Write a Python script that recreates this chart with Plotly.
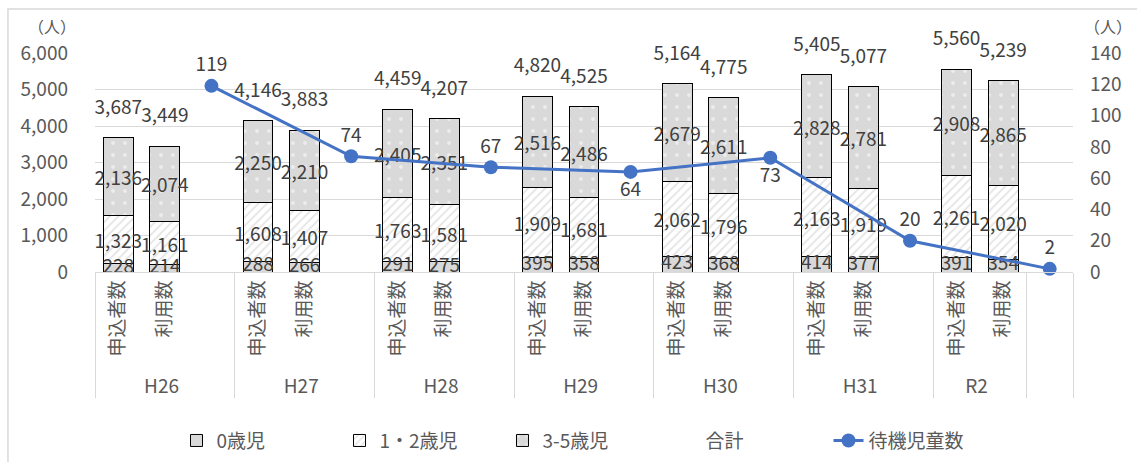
import plotly.graph_objects as go

# 年度と区分
years = ["H26", "H27", "H28", "H29", "H30", "H31", "R2"]
kinds = ["申込者数", "利用数"]

# 0歳児
age0_apply = [228, 288, 291, 395, 423, 414, 391]
age0_use = [214, 266, 275, 358, 368, 377, 354]
# 1・2歳児
age12_apply = [1323, 1608, 1763, 1909, 2062, 2163, 2261]
age12_use = [1161, 1407, 1581, 1681, 1796, 1919, 2020]
# 3-5歳児
age35_apply = [2136, 2250, 2405, 2516, 2679, 2828, 2908]
age35_use = [2074, 2210, 2351, 2486, 2611, 2781, 2865]
# 待機児童数
waiting = [119, 74, 67, 64, 73, 20, 2]
waiting_pos = ["top center", "top center", "top center", "bottom center",
               "bottom center", "top center", "top center"]

FONT = "Noto Sans CJK JP"
TICK_COLOR = "#595959"
LABEL_COLOR = "#404040"
GRID = "#d9d9d9"
BLANK = " "

# two-level category slots: each year has 申込者数, 利用数 and a spacer slot
outer, inner = [], []
for i, y in enumerate(years):
    outer += [y, y]
    inner += kinds
    if i < len(years) - 1:
        outer.append(y)
        inner.append(BLANK)
outer.append(BLANK)
inner.append(BLANK)
n_slots = len(outer)


def per_slot(apply_vals, use_vals):
    out = []
    for i in range(len(years)):
        out += [apply_vals[i], use_vals[i]]
        if i < len(years) - 1:
            out.append(None)
    out.append(None)
    return out


def per_bar(apply_vals, use_vals):
    out = []
    for a, u in zip(apply_vals, use_vals):
        out += [a, u]
    return out


bar_outer = [y for y in years for _ in kinds]
bar_inner = [k for _ in years for k in kinds]
age0_bars = per_bar(age0_apply, age0_use)
totals = [a + b + c for a, b, c in zip(age0_bars,
                                       per_bar(age12_apply, age12_use),
                                       per_bar(age35_apply, age35_use))]

wait_outer = years[:-1] + [BLANK]
wait_inner = [BLANK] * len(years)

label_font = dict(family=FONT, size=19, color=LABEL_COLOR)

fig = go.Figure()

bar_specs = [
    ("0歳児", per_slot(age0_apply, age0_use), False,
     dict(color="#d9d9d9", line=dict(color="black", width=1))),
    ("1・2歳児", per_slot(age12_apply, age12_use), True,
     dict(color="white", line=dict(color="black", width=1),
          pattern=dict(shape="/", fgcolor="#c8c8c8", bgcolor="white",
                       size=6, solidity=0.3))),
    ("3-5歳児", per_slot(age35_apply, age35_use), True,
     dict(color="#d9d9d9", line=dict(color="black", width=1),
          pattern=dict(shape=".", fgcolor="white", bgcolor="#d9d9d9",
                       size=12, solidity=0.08))),
]
for rank, (name, vals, inside_text, marker) in enumerate(bar_specs):
    fig.add_trace(go.Bar(
        x=[outer, inner], y=vals, name=name, marker=marker,
        texttemplate="%{y:,}" if inside_text else None,
        textposition="inside" if inside_text else "none", textangle=0,
        insidetextanchor="middle", constraintext="none",
        textfont=label_font,
        legendrank=rank + 1,
    ))

# 0歳児 labels sit at the middle of the thin bottom segment, drawn above the stack
fig.add_trace(go.Scatter(
    x=[bar_outer, bar_inner], y=[v / 2 for v in age0_bars],
    mode="text", text=[f"{v:,}" for v in age0_bars],
    textposition="middle center", textfont=label_font,
    showlegend=False, hoverinfo="skip", cliponaxis=False,
))

fig.add_trace(go.Scatter(
    x=[bar_outer, bar_inner], y=totals, name="合計",
    mode="markers+text", marker=dict(size=29, color="rgba(0,0,0,0)"),
    text=[f"{v:,}" for v in totals], textposition="top center",
    textfont=label_font,
    legendrank=4, cliponaxis=False,
))

fig.add_trace(go.Scatter(
    x=[wait_outer, wait_inner], y=waiting, name="待機児童数", yaxis="y2",
    mode="lines+markers+text",
    line=dict(color="#4472c4", width=3),
    marker=dict(size=14, color="#4472c4"),
    text=[str(v) for v in waiting], textposition=waiting_pos,
    textfont=label_font,
    legendrank=5, cliponaxis=False,
))

fig.update_layout(
    width=1137, height=462,
    margin=dict(l=95, r=64, t=53, b=190, autoexpand=False),
    paper_bgcolor="white", plot_bgcolor="white",
    font=dict(family=FONT, size=19, color=TICK_COLOR),
    barmode="stack", bargap=0.36,
    xaxis=dict(
        type="multicategory", tickangle=-90, automargin=False,
        range=[-0.5, n_slots - 0.5],
        showline=True, linecolor=GRID, linewidth=1,
        showdividers=True, dividercolor=GRID, dividerwidth=1,
        tickfont=dict(family=FONT, size=19, color=TICK_COLOR),
        showgrid=False,
    ),
    yaxis=dict(
        range=[0, 6000], dtick=1000, tickformat=",", automargin=False,
        showgrid=True, gridcolor=GRID, gridwidth=1, zeroline=False,
        ticklabelstandoff=26,
        tickfont=dict(family=FONT, size=19, color=TICK_COLOR),
    ),
    yaxis2=dict(
        range=[0, 140], dtick=20, overlaying="y", side="right",
        automargin=False,
        showgrid=False, zeroline=False, ticklabelstandoff=16,
        tickfont=dict(family=FONT, size=19, color=TICK_COLOR),
    ),
    legend=dict(
        orientation="h", x=0.5, xanchor="center", y=-0.77, yanchor="middle",
        font=dict(family=FONT, size=19, color=TICK_COLOR),
        traceorder="normal", entrywidth=118,
    ),
    showlegend=True,
    annotations=[
        dict(text="（人）", xref="paper", yref="paper", x=-0.044, y=1.125,
             xanchor="center", yanchor="middle",
             showarrow=False, font=dict(family=FONT, size=16, color=TICK_COLOR)),
        dict(text="（人）", xref="paper", yref="paper", x=1.036, y=1.125,
             xanchor="center", yanchor="middle",
             showarrow=False, font=dict(family=FONT, size=16, color=TICK_COLOR)),
    ],
    shapes=[
        dict(type="rect", xref="paper", yref="paper",
             x0=-0.089, x1=1.08, y0=-0.95, y1=1.201,
             line=dict(color=GRID, width=1.5), fillcolor="rgba(0,0,0,0)",
             layer="below"),
    ],
)

fig.write_html("out.html")
